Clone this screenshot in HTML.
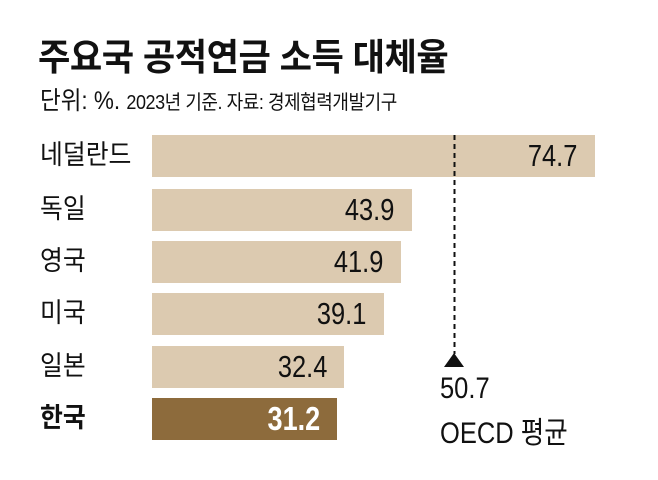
<!DOCTYPE html>
<html><head><meta charset="utf-8"><style>
body{margin:0;width:658px;height:480px;background:#fff;position:relative;overflow:hidden;font-family:"Liberation Sans","Noto Sans CJK KR",sans-serif;color:#111}
.a{position:absolute;white-space:nowrap}
.bar{position:absolute;left:152px;height:42px;background:#dccab0}
.lab{position:absolute;left:40px;font-size:27px;line-height:42px;transform:scaleX(0.92);transform-origin:left}
.val{position:absolute;font-size:31px;line-height:42px;text-align:right;transform:scaleX(0.82);transform-origin:right}
</style></head><body>
<div class="a" style="left:38px;top:27px;font-size:37px;font-weight:bold;letter-spacing:-0.5px;transform:scaleX(0.95);transform-origin:left">주요국 공적연금 소득 대체율</div>
<div class="a" style="left:40px;top:81px;font-size:25px;transform:scaleX(0.9);transform-origin:left">단위: %. <span style="font-size:20px;letter-spacing:-0.5px">2023년 기준. 자료: 경제협력개발기구</span></div>

<div class="bar" style="top:135px;width:443px"></div>
<div class="bar" style="top:189px;width:260px"></div>
<div class="bar" style="top:241px;width:249px"></div>
<div class="bar" style="top:293px;width:232px"></div>
<div class="bar" style="top:346px;width:192px"></div>
<div class="bar" style="top:398px;width:185px;background:#8d6b3c"></div>

<div class="lab" style="top:134px">네덜란드</div>
<div class="lab" style="top:188px">독일</div>
<div class="lab" style="top:240px">영국</div>
<div class="lab" style="top:292px">미국</div>
<div class="lab" style="top:345px">일본</div>
<div class="lab" style="top:397px;font-weight:bold">한국</div>

<div class="val" style="top:135px;right:81px">74.7</div>
<div class="val" style="top:189px;right:264px">43.9</div>
<div class="val" style="top:241px;right:275px">41.9</div>
<div class="val" style="top:293px;right:292px">39.1</div>
<div class="val" style="top:346px;right:331px">32.4</div>
<div class="val" style="top:398px;right:338px;color:#fff;font-weight:bold;font-size:33px">31.2</div>

<svg class="a" style="left:0;top:0" width="658" height="480">
<line x1="454.5" y1="135" x2="454.5" y2="354" stroke="#111" stroke-width="2" stroke-dasharray="5,4"/>
<polygon points="444,367 464,367 454,353" fill="#111"/>
</svg>
<div class="a" style="left:440px;top:372px;font-size:30px;transform:scaleX(0.85);transform-origin:left">50.7</div>
<div class="a" style="left:440px;top:408px;font-size:30px;transform:scaleX(0.85);transform-origin:left">OECD 평균</div>
</body></html>
